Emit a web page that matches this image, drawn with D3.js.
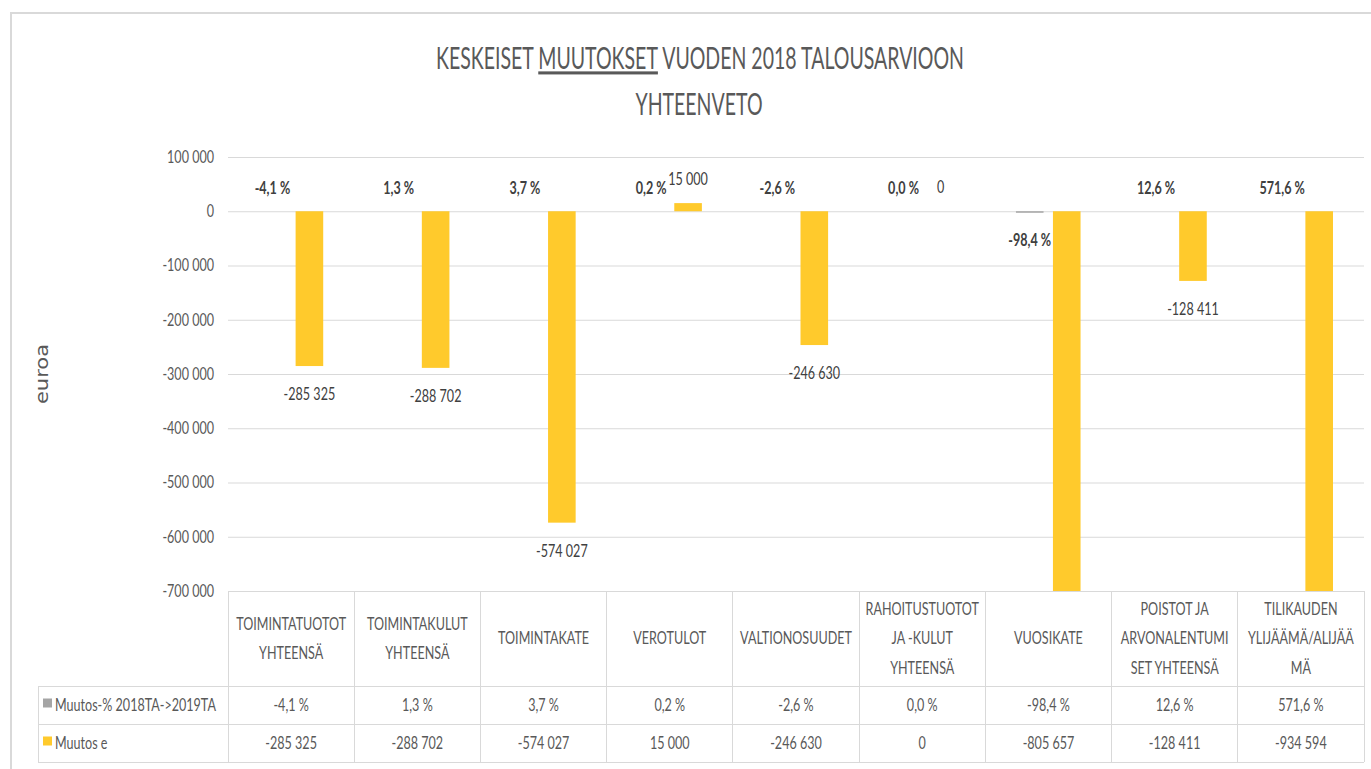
<!DOCTYPE html>
<html>
<head>
<meta charset="utf-8">
<script src="https://cdn.jsdelivr.net/npm/d3@7"></script>
<style>
  body { margin: 0; background: #fff; }
  svg { display: block; }
  text { font-family: Lato, "Open Sans", sans-serif; font-weight: 400; }
</style>
</head>
<body>
<svg id="chart"></svg>
<script>
// --- data ---
var categories = [
  "TOIMINTATUOTOT\nYHTEENSÄ",
  "TOIMINTAKULUT\nYHTEENSÄ",
  "TOIMINTAKATE",
  "VEROTULOT",
  "VALTIONOSUUDET",
  "RAHOITUSTUOTOT\nJA -KULUT\nYHTEENSÄ",
  "VUOSIKATE",
  "POISTOT JA\nARVONALENTUMI\nSET YHTEENSÄ",
  "TILIKAUDEN\nYLIJÄÄMÄ/ALIJÄÄ\nMÄ"
];
var seriesNames = ["Muutos-% 2018TA->2019TA", "Muutos e"];
var pctChange = [-4.1, 1.3, 3.7, 0.2, -2.6, 0.0, -98.4, 12.6, 571.6];
var eurChange = [-285325, -288702, -574027, 15000, -246630, 0, -805657, -128411, -934594];
var yTicks = [100000, 0, -100000, -200000, -300000, -400000, -500000, -600000, -700000];

var width = 1371, height = 769;
var SX = 0.74;       // the picture is squeezed sideways, so is every text
var titleSX = 0.64;
var grey = "#a5a5a5", gold = "#ffca2c", lineCol = "#d9d9d9";
var textCol = "#595959", labelCol = "#404040";

var fi = d3.formatLocale({ decimal: ",", thousands: "\u00a0", grouping: [3], currency: ["", ""], minus: "-" });
var fmtNum = fi.format(",.0f");
var fmtPct = function(d) { return fi.format(".1f")(d) + "\u00a0%"; };

var svg = d3.select("#chart").attr("width", width).attr("height", height);

// chart frame
svg.append("rect")
    .attr("x", 11).attr("y", 13)
    .attr("width", 1400).attr("height", 800)
    .attr("fill", "none").attr("stroke", lineCol).attr("stroke-width", 2);

var plot = { left: 228, right: 1364, top: 157, bottom: 591 };
var table = { left: 38, head: 591, row1: 686, row2: 724, end: 762 };

var x = d3.scaleBand()
    .domain(categories)
    .range([plot.left, plot.right]);

var x1 = d3.scaleBand()
    .domain(seriesNames)
    .range([-32.5, 32.1])
    .paddingInner(0.254);

var y = d3.scaleLinear()
    .domain([-700000, 100000])
    .range([plot.bottom, plot.top])
    .clamp(true);

// helper for squeezed text
function squeezed(g, px, py, str) {
  return g.append("text")
      .attr("transform", "translate(" + px + "," + py + ") scale(" + SX + ",1)")
      .attr("dy", "0.35em")
      .text(str);
}

// title
var title = svg.append("text")
    .attr("transform", "translate(700,69) scale(" + titleSX + ",1)")
    .attr("text-anchor", "middle")
    .attr("fill", textCol)
    .style("font-size", "30.5px");
title.append("tspan").text("KESKEISET ");
title.append("tspan").text("MUUTOKSET").style("text-decoration", "underline");
title.append("tspan").text(" VUODEN 2018 TALOUSARVIOON");

svg.append("text")
    .attr("transform", "translate(699,115) scale(" + titleSX + ",1)")
    .attr("text-anchor", "middle")
    .attr("fill", textCol)
    .style("font-size", "30.5px")
    .text("YHTEENVETO");

// y axis + gridlines
var yAxis = svg.append("g")
    .attr("transform", "translate(" + plot.left + ",0)")
    .call(d3.axisLeft(y)
      .tickValues(yTicks)
      .tickFormat(fmtNum)
      .tickSizeInner(-(plot.right - plot.left))
      .tickSizeOuter(0)
      .tickPadding(14));
yAxis.select(".domain").remove();
yAxis.selectAll(".tick line").attr("stroke", lineCol);
yAxis.selectAll(".tick text")
    .attr("x", -14 / SX)
    .attr("transform", "scale(" + SX + ",1)")
    .attr("fill", textCol)
    .style("font-size", "17px")
    .style("font-family", "Lato, sans-serif");

// axis title
svg.append("text")
    .attr("transform", "translate(42,374) scale(0.8,1) rotate(-90)")
    .attr("text-anchor", "middle")
    .attr("dy", "0.35em")
    .attr("fill", textCol)
    .style("font-family", "'DejaVu Sans', sans-serif")
    .style("font-weight", 400)
    .style("font-size", "21px")
    .text("euroa");

// bars
var rows = categories.map(function(c, i) {
  return { cat: c, pct: pctChange[i], eur: eurChange[i] };
});

var bars = svg.append("g");

bars.selectAll("rect.pct")
  .data(rows)
  .enter().append("rect")
    .attr("class", "pct")
    .attr("fill", grey)
    .attr("x", function(d) { return x(d.cat) + x.bandwidth() / 2 + x1(seriesNames[0]); })
    .attr("width", x1.bandwidth())
    .attr("y", function(d) { return Math.min(y(d.pct / 100), y(0)); })
    .attr("height", function(d) {
      var h = Math.abs(y(d.pct / 100) - y(0));
      // Excel keeps a hairline under the axis for the big drop
      return d.pct < -50 ? Math.max(h, 1.5) : h;
    });

bars.selectAll("rect.eur")
  .data(rows)
  .enter().append("rect")
    .attr("class", "eur")
    .attr("fill", gold)
    .attr("x", function(d) { return x(d.cat) + x.bandwidth() / 2 + x1(seriesNames[1]); })
    .attr("width", x1.bandwidth())
    .attr("y", function(d) { return Math.min(y(d.eur), y(0)); })
    .attr("height", function(d) { return Math.abs(y(d.eur) - y(0)); });

// data labels
var labels = svg.append("g").attr("text-anchor", "middle").attr("fill", labelCol);

rows.forEach(function(d) {
  var cx = x(d.cat) + x.bandwidth() / 2;
  // percent labels (bold)
  var gx = cx + x1(seriesNames[0]) + x1.bandwidth() / 2;
  var gy = d.pct < -50 ? y(0) + 29 : y(0) - 23.5;
  squeezed(labels, gx, gy, fmtPct(d.pct))
      .style("font-weight", 700)
      .style("font-size", "17px");

  // euro labels, skipped when the bar runs off the axis
  if (d.eur < y.domain()[0]) return;
  var ex = cx + x1(seriesNames[1]) + x1.bandwidth() / 2;
  var ey = d.eur < 0 ? y(d.eur) + 28 : y(d.eur) - 24.5;
  squeezed(labels, ex, ey, fmtNum(d.eur))
      .style("font-size", "17px");
});

// data table
var grid = svg.append("g").attr("stroke", lineCol).attr("stroke-width", 1).attr("shape-rendering", "crispEdges");
grid.append("line").attr("x1", plot.left).attr("x2", plot.right).attr("y1", table.head).attr("y2", table.head);
[table.row1, table.row2, table.end].forEach(function(ty) {
  grid.append("line").attr("x1", table.left).attr("x2", plot.right).attr("y1", ty).attr("y2", ty);
});
categories.concat([null]).forEach(function(c) {
  var lx = c === null ? plot.right : x(c);
  grid.append("line").attr("x1", lx).attr("x2", lx).attr("y1", table.head).attr("y2", table.end);
});
grid.append("line").attr("x1", table.left).attr("x2", table.left).attr("y1", table.row1).attr("y2", table.end);

var tbl = svg.append("g").attr("fill", textCol).style("font-size", "17px");

// header cells
categories.forEach(function(c) {
  var lines = c.split("\n");
  var cx = x(c) + x.bandwidth() / 2;
  var mid = (table.head + table.row1) / 2;
  lines.forEach(function(line, k) {
    var ly = mid + (k - (lines.length - 1) / 2) * 29.5;
    squeezed(tbl, cx, ly, line).attr("text-anchor", "middle");
  });
});

// value rows
var rowY = [(table.row1 + table.row2) / 2, (table.row2 + table.end) / 2];
var swatch = [grey, gold];
seriesNames.forEach(function(name, r) {
  tbl.append("rect")
      .attr("x", 43).attr("y", rowY[r] - 6.5)
      .attr("width", 9).attr("height", 9)
      .attr("fill", swatch[r]);
  squeezed(tbl, 55, rowY[r], name).attr("text-anchor", "start");
});
rows.forEach(function(d) {
  var cx = x(d.cat) + x.bandwidth() / 2;
  squeezed(tbl, cx, rowY[0], fmtPct(d.pct)).attr("text-anchor", "middle");
  squeezed(tbl, cx, rowY[1], fmtNum(d.eur)).attr("text-anchor", "middle");
});
</script>
</body>
</html>
